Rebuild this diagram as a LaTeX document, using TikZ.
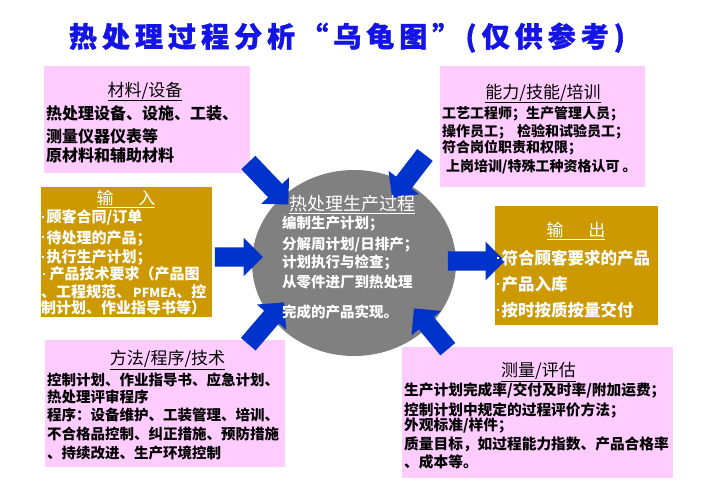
\documentclass[tikz,border=0pt]{standalone}
\usepackage{fontspec}
\usetikzlibrary{shapes.arrows,shapes.geometric}
\setmainfont{Liberation Serif}
\newfontfamily\cjk{Noto Sans CJK SC}
\definecolor{pinkbox}{RGB}{255,204,255}
\definecolor{goldbox}{RGB}{204,153,0}
\definecolor{ellgray}{RGB}{128,128,128}
\definecolor{arrowblue}{RGB}{0,51,204}
\definecolor{titleblue}{RGB}{20,20,230}
\newcommand\fs[1]{\fontsize{#1}{#1}\selectfont}
\newcommand\bul{\raisebox{.32em}{\rule{2pt}{2pt}}\hspace{2.5pt}}
\begin{document}
\begin{tikzpicture}[x=1pt,y=-1pt,
  pinkrect/.style={fill=pinkbox,draw=none,inner sep=0,anchor=north west},
  goldrect/.style={fill=goldbox,draw=none,inner sep=0,anchor=north west},
  bigarrow/.style={single arrow,fill=arrowblue,draw=none,inner xsep=0pt,inner ysep=9.5pt,
    single arrow head extend=9.5pt,single arrow tip angle=90,minimum height=#1,anchor=center},
  ln/.style={anchor=base west,inner sep=0},
  tl/.style={anchor=base,inner sep=0}]
\useasboundingbox[fill=white] (0,0) rectangle (702,496);

% main title
\node[tl,text=titleblue,font=\cjk\bfseries\fs{28}] (title) at (347,47)
  {\addfontfeature{LetterSpace=18,FakeBold=1.2}热处理过程分析“乌龟图”(仅供参考)};

% boxes
\node[pinkrect,minimum width=206pt,minimum height=107pt] (mat) at (44,66) {};
\node[pinkrect,minimum width=205pt,minimum height=121pt] (skill) at (440,66) {};
\node[goldrect,minimum width=171pt,minimum height=130pt] (inp) at (41,187) {};
\node[goldrect,minimum width=163pt,minimum height=119pt] (outp) at (495,206) {};
\node[pinkrect,minimum width=240pt,minimum height=127pt] (meth) at (45,340) {};
\node[pinkrect,minimum width=271pt,minimum height=131pt] (meas) at (402,347) {};
\node[fill=ellgray,draw=none,ellipse,minimum width=204pt,minimum height=186pt,inner sep=0] (proc) at (354,263) {};

% arrows
\node[bigarrow=58pt,rotate=-46.4] (a1) at (265,180) {};
\node[bigarrow=54pt,rotate=-127.5] (a2) at (411.5,172.5) {};
\node[bigarrow=48pt] (a3) at (234,257) {};
\node[bigarrow=57pt] (a4) at (471.5,261) {};
\node[bigarrow=55pt,rotate=49.4] (a5) at (263,327) {};
\node[bigarrow=53pt,rotate=129.7] (a6) at (434,332.5) {};

% materials
\begin{scope}[font=\cjk\bfseries\fs{16}]
\node[tl,font=\cjk\fs{17}] (matt) at (145,96) {\underline{材料/设备}};
\node[ln] (m1) at (46,119) {热处理设备、设施、工装、};
\node[ln] (m2) at (46,142) {测量仪器仪表等};
\node[ln] (m3) at (46,161) {原材料和辅助材料};
\end{scope}

% skills
\begin{scope}[font=\cjk\bfseries\fs{14}]
\node[tl,font=\cjk\fs{17}] (skt) at (543,98) {\underline{能力/技能/培训}};
\node[ln] (s1) at (442,118.6) {工艺工程师；生产管理人员；};
\node[ln] (s2) at (442,136) {操作员工；\hspace{5pt}检验和试验员工；};
\node[ln] (s3) at (442,152.6) {符合岗位职责和权限；};
\node[ln] (s4) at (446,171.3) {上岗培训/特殊工种资格认可\hspace{3pt}。};
\end{scope}

% input
\begin{scope}[font=\cjk\bfseries\fs{15},text=white]
\node[tl,font=\cjk\fs{17}] (int) at (126,204.5) {\underline{输\hspace{1.45em}入}};
\node[ln] (i1) at (42,222.4) {\bul 顾客合同/订单};
\node[ln] (i2) at (42,243) {\bul 待处理的产品；};
\node[ln] (i3) at (42,262.4) {\bul 执行生产计划；};
\node[ln] (i4) at (43,279.7) {\bul\hspace{2pt}产品技术要求（产品图};
\node[ln] (i5) at (41,297.4) {、工程规范、{\fs{12.5}\hspace{2pt}PFMEA}、控};
\node[ln] (i6) at (41,313.4) {制计划、作业指导书等）};
\end{scope}

% process
\begin{scope}[font=\cjk\bfseries\fs{14.5},text=white]
\node[tl,font=\cjk\fs{18}] (pt) at (352,210) {\underline{热处理生产过程}};
\node[ln] (p1) at (282,228.8) {编制生产计划；};
\node[ln] (p2) at (282,249.2) {分解周计划/日排产；};
\node[ln] (p3) at (282,267.2) {计划执行与检查；};
\node[ln] (p4) at (282,287.2) {从零件进厂到热处理};
\node[ln] (p5) at (282,317.2) {完成的产品实现。};
\end{scope}

% output
\begin{scope}[font=\cjk\bfseries\fs{16.5},text=white]
\node[tl,font=\cjk\fs{17}] (ot) at (576,236.5) {\underline{输\hspace{1.45em}出}};
\node[ln] (o1) at (497,264.6) {\bul 符合顾客要求的产品};
\node[ln] (o2) at (497,290.6) {\bul 产品入库};
\node[ln] (o3) at (497,316.3) {\bul 按时按质按量交付};
\end{scope}

% methods
\begin{scope}[font=\cjk\bfseries\fs{14.5}]
\node[tl,font=\cjk\fs{17}] (mt) at (167.5,364.8) {\underline{方法/程序/技术}};
\node[ln] (t1) at (47,385.5) {控制计划、作业指导书、应急计划、};
\node[ln] (t2) at (47,402.2) {热处理评审程序};
\node[ln] (t3) at (47,420.5) {程序：设备维护、工装管理、培训、};
\node[ln] (t4) at (47,439.5) {不合格品控制、纠正措施、预防措施};
\node[ln] (t5) at (47,458.8) {、持续改进、生产环境控制};
\end{scope}

% measurement
\begin{scope}[font=\cjk\bfseries\fs{14.7}]
\node[tl,font=\cjk\fs{17}] (et) at (538.5,376.5) {\underline{测量/评估}};
\node[ln] (e1) at (404,395.6) {生产计划完成率/交付及时率/附加运费；};
\node[ln] (e2) at (404,415.6) {控制计划中规定的过程评价方法；};
\node[ln] (e3) at (404,430.6) {外观标准/样件；};
\node[ln] (e4) at (404,449) {质量目标，如过程能力指数、产品合格率};
\node[ln] (e5) at (404,467.3) {、成本等。};
\end{scope}
\end{tikzpicture}
\end{document}
